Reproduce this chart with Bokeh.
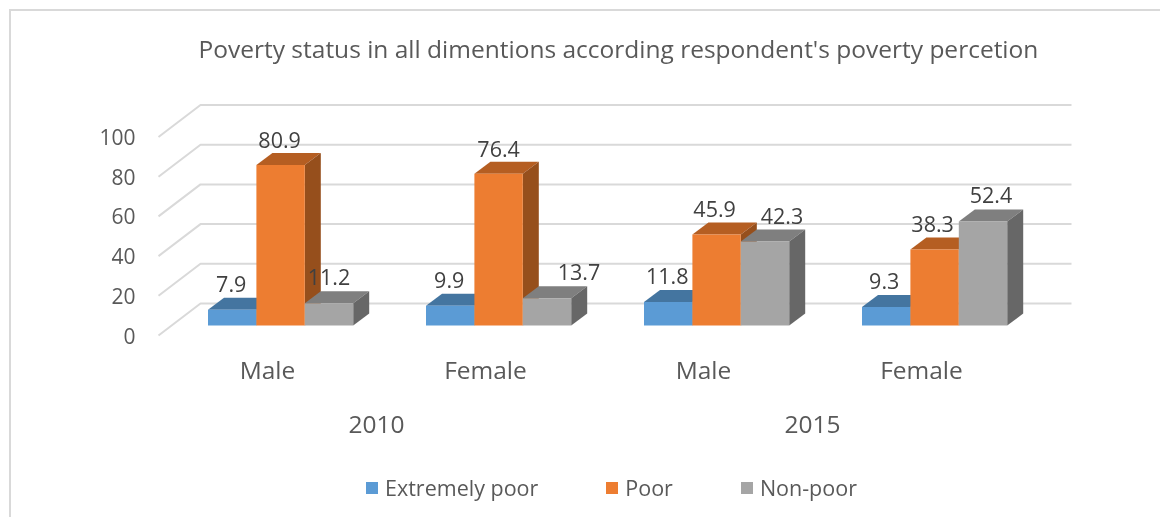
from bokeh.plotting import figure
from bokeh.models import FixedTicker, LinearAxis, Range1d, Legend, LegendItem, Div
from bokeh.layouts import column
from bokeh.core.properties import value
from bokeh.embed import file_html
from bokeh.resources import INLINE

title = "Poverty status in all dimentions according respondent's poverty percetion"
genders = ["Male", "Female", "Male", "Female"]
years = ["2010", "2015"]
series_names = ["Extremely poor", "Poor", "Non-poor"]
extremely_poor = [7.9, 9.9, 11.8, 9.3]
poor = [80.9, 76.4, 45.9, 38.3]
non_poor = [11.2, 13.7, 42.3, 52.4]
y_ticks = [0, 20, 40, 60, 80, 100]

front_colors = ["#5B9BD5", "#ED7D31", "#A5A5A5"]
top_colors = ["#4475A0", "#B55E22", "#7F7F7F"]
side_colors = ["#44729B", "#964F1C", "#676767"]
# manual shifts (px) of the data labels, by series then by group
label_dx = [[-1, -1, -1, -2], [-1, 0, -2, -2], [0, 32, 17, 8]]
label_dy = [26, 25, 26]

FONT = "Open Sans"
GREY = "#595959"
DARK = "#404040"
PX_X, PX_Y = 218.0, 1.985          # px per group, px per value unit
F_L, F_R, F_T, F_B = 143, 1152, 70, 345   # frame in window px
X0, Y0 = 267, 335                  # window px of group 0 / value 0 on the front plane
H = 460
LEG_H = 49

def dx(px): return px / PX_X
def dy(px): return px / PX_Y

p = figure(width=F_R, height=H, output_backend="svg", toolbar_location=None,
           x_range=Range1d((F_L - X0) / PX_X, (F_R - X0) / PX_X),
           y_range=Range1d((Y0 - F_B) / PX_Y, (Y0 - F_T) / PX_Y),
           min_border_left=F_L, min_border_right=0, min_border_top=F_T, min_border_bottom=H - F_B,
           x_axis_location=None, y_axis_location=None, background_fill_color=None, border_fill_color=None)
p.outline_line_color = None
p.grid.visible = False

p.title.text = title
p.title.text_font = FONT
p.title.text_font_size = "24.5px"
p.title.text_font_style = "normal"
p.title.text_color = GREY
p.title.align = "left"
p.title.offset = 55
p.title.standoff = 11

# y axis
ya = LinearAxis(ticker=FixedTicker(ticks=y_ticks))
ya.axis_line_color = None
ya.major_tick_line_color = None
ya.minor_tick_line_color = None
ya.major_label_text_font = FONT
ya.major_label_text_font_size = "21px"
ya.major_label_text_color = GREY
ya.major_label_standoff = 2
p.add_layout(ya, "left")

# gender axis
xa = LinearAxis(ticker=FixedTicker(ticks=list(range(len(genders)))),
                major_label_overrides={i: g for i, g in enumerate(genders)})
# year axis
xb = LinearAxis(ticker=FixedTicker(ticks=[0.5, 2.5]),
                major_label_overrides={0.5: years[0], 2.5: years[1]})
for a, st in ((xa, 1), (xb, 21)):
    a.axis_line_color = None
    a.major_tick_line_color = None
    a.minor_tick_line_color = None
    a.major_label_text_font = FONT
    a.major_label_text_font_size = "24.5px"
    a.major_label_text_color = GREY
    a.major_label_standoff = st
    a.major_label_orientation = "horizontal"
p.add_layout(xa, "below")
p.add_layout(xb, "below")

# gridlines: left wall + back wall
back_x, front_x, end_x = dx(200 - X0), dx(158 - X0), dx(1071 - X0)
wall = dy(32)
p.multi_line([[front_x, back_x, end_x] for _ in y_ticks],
             [[t, t + wall, t + wall] for t in y_ticks],
             line_color="#D9D9D9", line_width=2)

# 3D bars
base = dy(10)
bw, dep_x, dep_y = dx(48.4), dx(16), dy(12)
left0 = dx(207.5 - X0)
all_series = [extremely_poor, poor, non_poor]
for s, vals in enumerate(all_series):
    fx, fy, tx, ty, sx, sy = [], [], [], [], [], []
    for g, v in enumerate(vals):
        l = g + left0 + s * bw
        r = l + bw
        b = base
        t = base + v
        fx.append([l, r, r, l]); fy.append([b, b, t, t])
        tx.append([l, r, r + dep_x, l + dep_x]); ty.append([t, t, t + dep_y, t + dep_y])
        sx.append([r, r + dep_x, r + dep_x, r]); sy.append([b, b + dep_y, t + dep_y, t])
    p.patches(tx, ty, fill_color=top_colors[s], line_color=None)
    p.patches(sx, sy, fill_color=side_colors[s], line_color=None)
    p.patches(fx, fy, fill_color=front_colors[s], line_color=None)

# data labels on top of everything
for s, vals in enumerate(all_series):
    xs = [g + left0 + (s + 0.5) * bw for g in range(len(vals))]
    ys = [base + v for v in vals]
    p.text(xs, ys, text=[f"{v:.1f}" for v in vals], x_offset=label_dx[s], y_offset=[-label_dy[s]] * len(vals),
           text_align="center", text_baseline="middle", text_font=value(FONT),
           text_font_size="21.5px", text_color=DARK)

# legend strip: a figure of its own, whose frame holds only the legend
leg = figure(width=F_R, height=LEG_H, output_backend="svg", toolbar_location=None,
             x_range=Range1d(0, 1), y_range=Range1d(0, 1),
             min_border_left=0, min_border_right=0, min_border_top=0, min_border_bottom=0,
             x_axis_location=None, y_axis_location=None, background_fill_color=None, border_fill_color=None)
leg.outline_line_color = None
leg.grid.visible = False
items = []
for s, name in enumerate(series_names):
    # the strip's ranges leave this patch out of view: only its legend swatch shows
    r = leg.patches(xs=[[-3, -2, -2]], ys=[[-3, -3, -2]], fill_color=front_colors[s], line_color=None)
    items.append(LegendItem(label=name, renderers=[r]))
legend = Legend(items=items, orientation="horizontal", location=(364 - F_L, 7), spacing=66,
                glyph_width=15, glyph_height=15, label_standoff=6, padding=0,
                margin=0, border_line_color=None, background_fill_color=None,
                label_text_font=FONT, label_text_font_size="21.5px", label_text_color=GREY)
leg.add_layout(legend)

border = Div(text="", width=0, height=0, styles={
    "position": "fixed", "left": "4px", "top": "4px", "width": "1300px", "height": "700px",
    "border": "2px solid #D9D9D9", "box-sizing": "border-box"})
page = column(border, p, leg, spacing=0)
open("out.html", "w").write(file_html(page, INLINE))
